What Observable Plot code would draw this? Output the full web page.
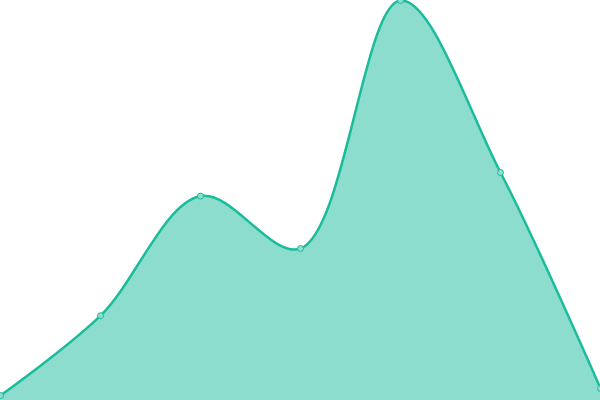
<!DOCTYPE html>
<html>
<head>
<meta charset="utf-8">
<script src="https://cdn.jsdelivr.net/npm/d3@7"></script>
<script src="https://cdn.jsdelivr.net/npm/@observablehq/plot@0.6"></script>
<style>
  html, body { margin: 0; padding: 0; background: #fff; overflow: hidden; }
  svg { display: block; overflow: hidden; }
</style>
</head>
<body>
<div id="chart"></div>
<script>
const xs = [0, 1, 2, 3, 4, 5, 6];
const values = [1.25, 21.2, 51.1, 38, 100, 57, 3];

const data = xs.map((x, i) => ({x, y: values[i]}));

const chart = Plot.plot({
  width: 600,
  height: 400,
  margin: 0,
  x: {domain: [0, 6], range: [0, 600], axis: null},
  y: {domain: [0, 100], range: [400, 0], axis: null},
  marks: [
    Plot.areaY(data, {x: "x", y: "y", curve: "catmull-rom", fill: "#1abc9c", fillOpacity: 0.5}),
    Plot.lineY(data, {x: "x", y: "y", curve: "catmull-rom", stroke: "#1abc9c", strokeWidth: 2.5}),
    Plot.dot(data, {x: "x", y: "y", r: 3, fill: "#8ddece", stroke: "#1abc9c", strokeWidth: 1})
  ]
});
document.getElementById("chart").appendChild(chart);
</script>
</body>
</html>
